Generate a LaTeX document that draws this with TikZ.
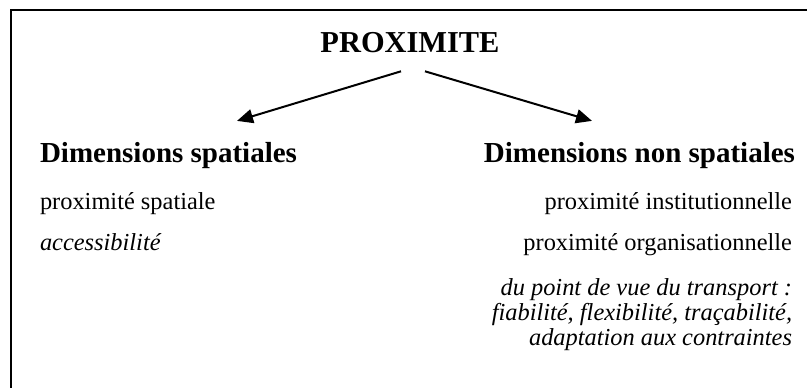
\documentclass[tikz,border=0pt]{standalone}
\usepackage{fontspec}
\setmainfont{Liberation Serif}
\usetikzlibrary{arrows.meta, calc}
\tikzstyle{title} = [draw=none, inner sep=0, outer sep=0,
    font=\fontsize{15.2}{18}\selectfont\bfseries]
\tikzstyle{heading} = [draw=none, inner sep=0, outer sep=0,
    font=\fontsize{14.5}{17}\selectfont\bfseries]
\tikzstyle{item} = [draw=none, inner sep=0, outer sep=0,
    font=\fontsize{12.2}{12.5}\selectfont]
\tikzstyle{note} = [draw=none, inner sep=0, outer sep=0, align=right,
    font=\fontsize{12.2}{12.5}\selectfont\itshape]
\tikzstyle{link} = [line width=1, -{Triangle[length=8pt, width=7pt]}]
\tikzstyle{frame} = [line width=1.4, line cap=rect]

\begin{document}
\begin{tikzpicture}[x=0.5pt, y=-0.5pt]
\useasboundingbox (0,0) rectangle (807,387);

% 1. The frame (only top and left sides show)
\draw[frame] (11,387) |- (806,10);

%%% TITLE
\node[title, anchor=base] (prox) at (410,52) {PROXIMITE};

%%% LEFT COLUMN
\node[heading, anchor=base west] (spat) at (40,162) {Dimensions spatiales};
\node[item, anchor=base west] (pspat) at (40,209) {proximité spatiale};
\node[item, anchor=base west] (acces) at (40,250) {\itshape accessibilité};

%%% RIGHT COLUMN
\node[heading, anchor=base east] (nonspat) at (795,162) {Dimensions non spatiales};
\node[item, anchor=base east] (pinst) at (792,209) {proximité institutionnelle};
\node[item, anchor=base east] (porga) at (792,250) {proximité organisationnelle};
\node[note, anchor=base east] (transp) at (792,345) {du point de vue du transport :\\
    fiabilité, flexibilité, traçabilité,\\ adaptation aux contraintes};

% 2. Arrows from the title to both headings
\draw[link] ($(prox.south)+(-9,19)$) -- ($(spat.north west)+(197,-21)$);
\draw[link] ($(prox.south)+(15,19)$) -- ($(nonspat.north west)+(108,-21)$);

\end{tikzpicture}
\end{document}
